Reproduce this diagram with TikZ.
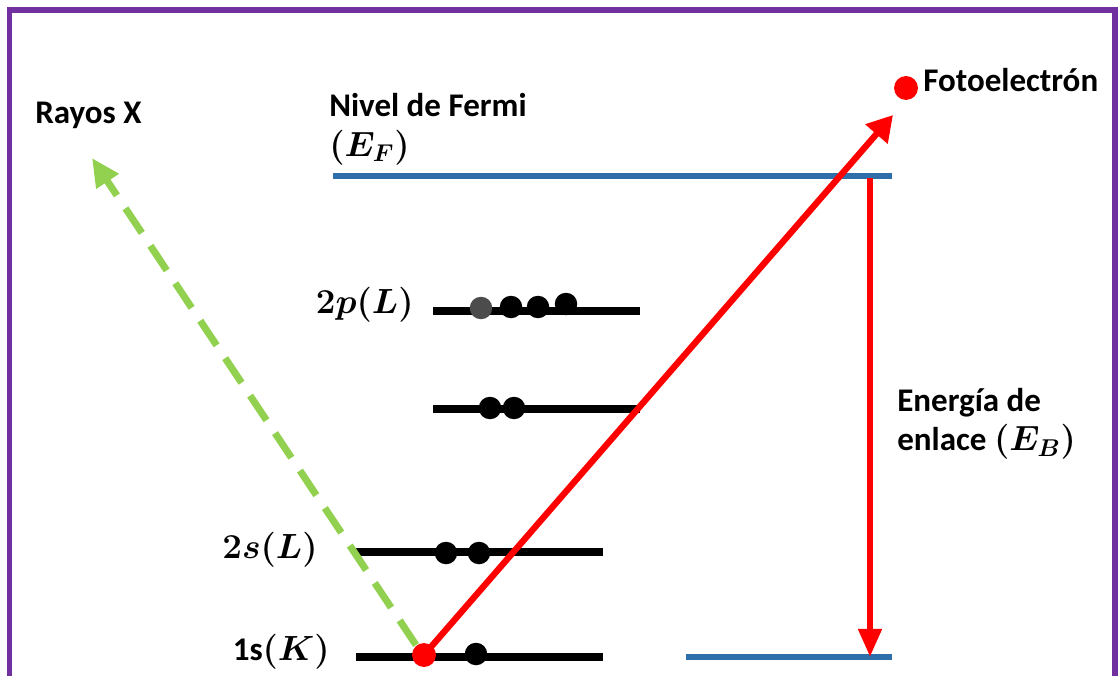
\documentclass[tikz,border=0pt]{standalone}
\usepackage{amsmath,amssymb}
\usepackage{bm}
\usepackage[no-math]{fontspec}
\setmainfont{Carlito}
\usepackage{tikz}
\usetikzlibrary{arrows.meta}
\definecolor{marco}{RGB}{112,48,160}
\definecolor{nivel}{RGB}{46,110,170}
\definecolor{verde}{RGB}{146,208,80}

\begin{document}
\begin{tikzpicture}[x=0.025cm,y=-0.025cm,>=Stealth,
    lvl/.style={line width=5.3pt},
    fermi/.style={line width=4.3pt,nivel},
    elec/.style={circle,fill,inner sep=0pt,minimum size=16pt},
    lbl/.style={font=\bfseries\fontsize{23.5}{28}\selectfont,align=left,inner sep=0pt}]
            \useasboundingbox (0,0) rectangle (1118,676);
            \draw [marco,line width=4pt] (9.5,700) -- (9.5,10) -- (1115,10) -- (1115,700);
            % niveles
            \draw [fermi] (333,176) -- (892,176);
            \draw [fermi] (686,657) -- (892,657);
            \draw [lvl] (433,311) -- (640,311);
            \draw [lvl] (433,409) -- (640,409);
            \draw [lvl] (356,552) -- (603,552);
            \draw [lvl] (356,657) -- (603,657);
            % electrones
            \node [elec,fill=black!70] (p1) at (481,308) {};
            \node [elec] (p2) at (511,307) {};
            \node [elec] (p3) at (538,307) {};
            \node [elec] (p4) at (566,304) {};
            \node [elec] (d1) at (490,408) {};
            \node [elec] (d2) at (514,408) {};
            \node [elec] (s1) at (446,553) {};
            \node [elec] (s2) at (479,553) {};
            \node [elec] (k1) at (476,654) {};
            \coordinate (k0) at (424,655);
            \coordinate (rx0) at (416,645);
            \coordinate (rx1) at (92,158);
            \coordinate (sal) at (893,115);
            \coordinate (eb0) at (870,178);
            \coordinate (eb1) at (870,657);
            % flechas
            \draw [verde,line width=5pt,dash pattern=on 21pt off 11pt,-{Triangle[length=20pt,width=18pt]}] (rx0) -- (rx1);
            \draw [red,line width=4.5pt,-{Triangle[length=18pt,width=20pt]}] (k0) -- (sal);
            \draw [red,line width=4.5pt,-{Triangle[length=20pt,width=16pt]}] (eb0) -- (eb1);
            \node [elec,red,minimum size=17pt] (k) at (k0) {};
            \node [elec,red,minimum size=17pt] (fe) at (906,88) {};
            % textos
            \node [lbl,anchor=west] (rayos) at (35,115) {Rayos X};
            \node [lbl,anchor=west] (nf) at (329,105) {Nivel de Fermi};
            \node [lbl,anchor=west] (ef) at (329,148) {$\bm{(E_F)}$};
            \node [lbl,anchor=west] (foto) at (923,80) {Fotoelectrón};
            \node [lbl,anchor=west] (eb) at (897,424) {Energía de\\enlace $\bm{(E_B)}$};
            \node [lbl,anchor=east] (n2p) at (414,305) {$\bm{2p(L)}$};
            \node [lbl,anchor=east] (n2s) at (318,550) {$\bm{2s(L)}$};
            \node [lbl,anchor=east] (n1s) at (330,652) {1s$\bm{(K)}$};
        \end{tikzpicture}
\end{document}
